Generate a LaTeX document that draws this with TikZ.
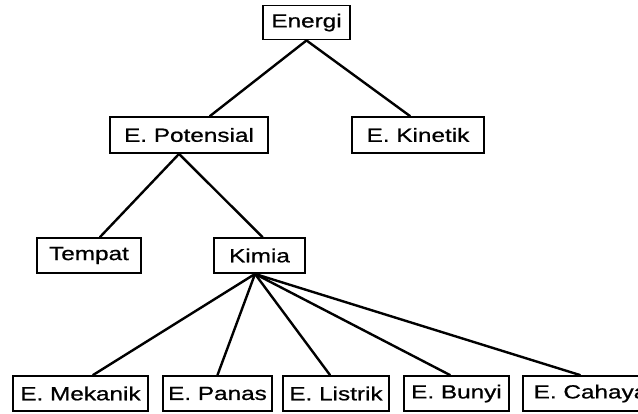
\documentclass[tikz,border=0pt]{standalone}
\usepackage{fontspec}
\setmainfont{Liberation Sans}[FakeStretch=1.28,FakeBold=0.8]
\begin{document}
\begin{tikzpicture}[x=1pt,y=-1pt,
  box/.style={draw=black, line width=1.9pt, minimum height=34pt, inner sep=0pt, font=\fontsize{19}{21}\selectfont, fill=white},
  link/.style={line width=2.4pt, line cap=round}]
\useasboundingbox[fill=white] (0,0) rectangle (638,414);
\node[box, minimum width=87pt]  (en) at (306.5,22.5) {Energi};
\node[box, minimum width=158pt, minimum height=36pt] (po) at (189,135) {E. Potensial};
\node[box, minimum width=132pt, minimum height=36pt] (ki) at (418,135) {E. Kinetik};
\node[box, minimum width=104pt, minimum height=35pt] (te) at (89,255.5) {Tempat};
\node[box, minimum width=91pt, minimum height=35pt]  (km) at (259.5,255.5) {Kimia};
\node[box, minimum width=135pt, minimum height=35pt] (me) at (80.5,393.5) {E. Mekanik};
\node[box, minimum width=109pt, minimum height=35pt] (pa) at (217.5,393.5) {E. Panas};
\node[box, minimum width=106pt, minimum height=35pt] (li) at (336,393.5) {E. Listrik};
\node[box, minimum width=105pt, minimum height=35pt] (bu) at (456.5,393.5) {E. Bunyi};
\node[box, minimum width=135pt, minimum height=35pt] (ca) at (590.5,393.5) {E. Cahaya};
\draw[link] (en.south) -- ([xshift=21pt]po.north);
\draw[link] (en.south) -- ([xshift=-8pt]ki.north);
\draw[link] ([xshift=-10pt]po.south) -- ([xshift=11pt]te.north);
\draw[link] ([xshift=-10pt]po.south) -- ([xshift=3pt]km.north);
\draw[link] ([xshift=-4.5pt]km.south) -- ([xshift=12.5pt]me.north);
\draw[link] ([xshift=-4.5pt]km.south) -- (pa.north);
\draw[link] ([xshift=-4.5pt]km.south) -- ([xshift=-6pt]li.north);
\draw[link] ([xshift=-4.5pt]km.south) -- ([xshift=-6.5pt]bu.north);
\draw[link] ([xshift=-4.5pt]km.south) -- ([xshift=-10.5pt]ca.north);
\end{tikzpicture}
\end{document}
